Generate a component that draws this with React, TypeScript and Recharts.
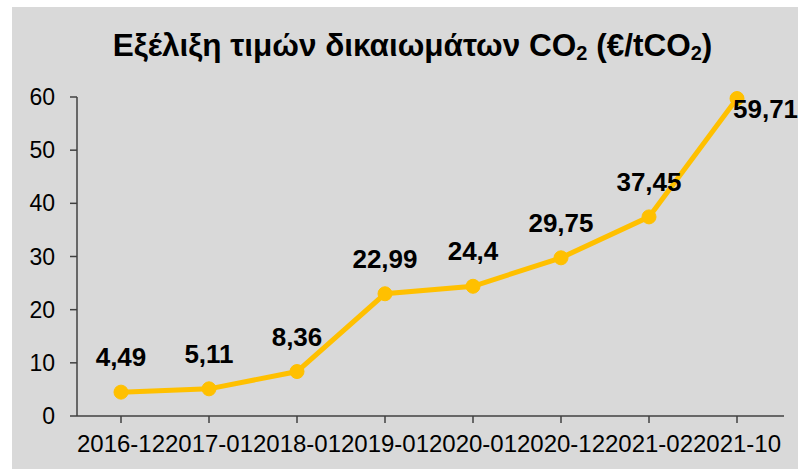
import React from 'react';
import { LineChart, Line, XAxis, YAxis, LabelList } from 'recharts';

const periods = ['2016-12', '2017-01', '2018-01', '2019-01', '2020-01', '2020-12', '2021-02', '2021-10'];
const prices = [4.49, 5.11, 8.36, 22.99, 24.4, 29.75, 37.45, 59.71];
const yTicks = [0, 10, 20, 30, 40, 50, 60];

const data = periods.map((p, i) => ({ period: p, price: prices[i] }));

const FONT = '"Liberation Sans", Arial, sans-serif';

const renderLabel = (props: any) => {
    const { x, y, value, index } = props;
    const text = String(value).replace('.', ',');
    const last = index === prices.length - 1;
    return (
        <text
            x={last ? x - 4 : x}
            y={last ? y + 10 : y - 35}
            textAnchor={last ? 'start' : 'middle'}
            dominantBaseline="central"
            fill="#000"
            fontFamily={FONT}
            fontWeight="bold"
            fontSize={26}
        >
            {text}
        </text>
    );
};

const subStyle: React.CSSProperties = { fontSize: 20, lineHeight: 0, verticalAlign: '-0.22em' };

export default function App() {
    return (
        <div style={{ position: 'absolute', left: 0, top: 0, width: 798, height: 469, background: '#fff' }}>
            <div style={{ position: 'absolute', left: 12, top: 7, width: 786, height: 462, background: '#d9d9d9' }} />
            <div
                style={{
                    position: 'absolute',
                    left: 0,
                    width: 825,
                    top: 28,
                    textAlign: 'center',
                    fontFamily: FONT,
                    fontWeight: 'bold',
                    fontSize: 31.5,
                    color: '#000',
                    lineHeight: '34px',
                    whiteSpace: 'nowrap',
                }}
            >
                Εξέλιξη τιμών δικαιωμάτων CO<span style={subStyle}>2</span> (€/tCO<span style={subStyle}>2</span>)
            </div>
            <div style={{ position: 'absolute', left: 0, top: 0 }}>
                <LineChart width={798} height={469} data={data} margin={{ top: 97, right: 14, left: 0, bottom: 0 }}>
                    <XAxis
                        dataKey="period"
                        height={53}
                        padding={{ left: 44, right: 47 }}
                        tick={{ fill: '#000', fontSize: 24, fontFamily: FONT }}
                        tickSize={7}
                        tickMargin={12}
                        interval={0}
                        stroke="#404040"
                        strokeWidth={1.5}
                    />
                    <YAxis
                        width={77}
                        domain={[0, 60]}
                        ticks={yTicks}
                        tick={{ fill: '#000', fontSize: 23, fontFamily: FONT }}
                        tickSize={7}
                        tickMargin={15}
                        stroke="#404040"
                        strokeWidth={1.5}
                    />
                    <Line
                        type="linear"
                        dataKey="price"
                        stroke="#FFC000"
                        strokeWidth={5}
                        dot={{ r: 7, fill: '#FFC000', stroke: '#FFC000', strokeWidth: 1 }}
                        isAnimationActive={false}
                    >
                        <LabelList dataKey="price" content={renderLabel} />
                    </Line>
                </LineChart>
            </div>
        </div>
    );
}
